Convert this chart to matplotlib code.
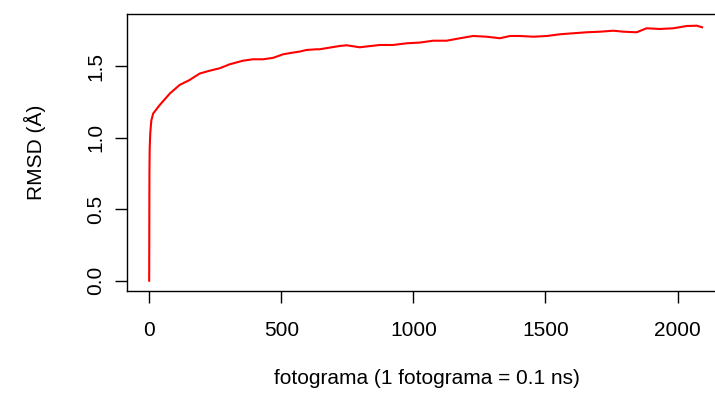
import matplotlib
matplotlib.use('Agg')
from matplotlib import pyplot as plt

plt.rcParams['font.family'] = ['Liberation Sans', 'DejaVu Sans']

# frame numbers and RMSD values
frames = [0, 1, 2, 4, 8, 15, 40, 78, 115, 153, 191, 229, 267, 305, 355, 393,
          431, 469, 507, 545, 570, 595, 633, 645, 721, 747, 797, 873, 923,
          975, 1025, 1075, 1126, 1176, 1226, 1277, 1315, 1327, 1366, 1403,
          1454, 1505, 1555, 1605, 1656, 1706, 1757, 1795, 1845, 1883, 1934,
          1984, 2035, 2073, 2093]
rmsd = [0.0, 0.75, 0.93, 1.03, 1.12, 1.17, 1.23, 1.31, 1.37, 1.405, 1.45,
        1.47, 1.487, 1.515, 1.54, 1.55, 1.55, 1.56, 1.585, 1.597, 1.604,
        1.615, 1.62, 1.62, 1.643, 1.648, 1.634, 1.65, 1.65, 1.662, 1.667,
        1.68, 1.68, 1.697, 1.713, 1.708, 1.70, 1.697, 1.713, 1.713, 1.708,
        1.713, 1.725, 1.732, 1.739, 1.743, 1.75, 1.743, 1.739, 1.767, 1.762,
        1.767, 1.783, 1.785, 1.774]

xticks = [0, 500, 1000, 1500, 2000]
yticks = [0.0, 0.5, 1.0, 1.5]

fig = plt.figure(figsize=(7.15, 3.94), dpi=100)
ax = fig.add_axes([0.1776, 0.2614, 0.838, 0.7031])

ax.plot(frames, rmsd, color='red', linewidth=1.5)

# R style axis ranges (4% padding)
ax.set_xlim(-84, 2184)
ax.set_ylim(-0.072, 1.867)

ax.set_xticks(xticks)
ax.set_xticklabels([str(t) for t in xticks])
ax.set_yticks(yticks)
ax.set_yticklabels(['%.1f' % t for t in yticks], rotation=90, va='center')

ax.tick_params(axis='both', direction='out', length=8.6, width=1,
               labelsize=15)
ax.tick_params(axis='x', pad=13)
ax.tick_params(axis='y', pad=7)

for s in ax.spines.values():
    s.set_linewidth(1)

ax.set_xlabel('fotograma (1 fotograma = 0.1 ns)', fontsize=15, labelpad=21)
ax.set_ylabel('RMSD (Å)', fontsize=15, labelpad=29)

fig.savefig('out.png', dpi=100)
